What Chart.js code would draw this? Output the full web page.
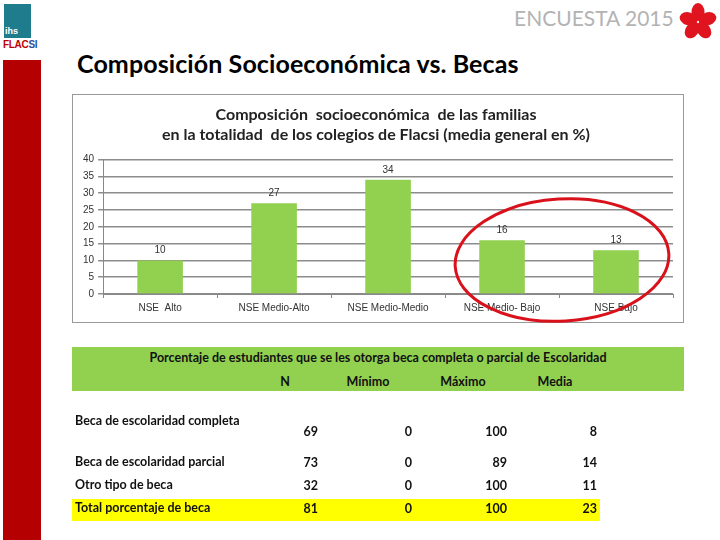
<!DOCTYPE html>
<html>
<head>
<meta charset="utf-8">
<script src="https://cdn.jsdelivr.net/npm/chart.js@4.4.1/dist/chart.umd.min.js"></script>
<style>
  body { margin: 0; width: 720px; height: 540px; background: #fff; position: relative; overflow: hidden; font-family: 'Lato', 'Noto Sans', sans-serif; }
  .abs { position: absolute; }
  #redbar { left: 3px; top: 60px; width: 38px; height: 480px; background: #b40000; }
  #logo { left: 4px; top: 4px; width: 27px; height: 34px; background: #1e7c8c; }
  #logo span { position: absolute; left: 1px; bottom: 2px; color: #fff; font: bold 9px 'Liberation Sans', sans-serif; }
  #flacsi { left: 3px; top: 39px; font: bold 10px 'Liberation Sans Narrow', 'Liberation Sans', sans-serif; color: #c00000; letter-spacing: -0.3px; }
  #flacsi b { color: #2a4f9a; }
  #encuesta { left: 514px; top: 5px; font-size: 21px; color: #b3b3b3; font-family: 'Lato', sans-serif; }
  #title { left: 77px; top: 48px; font-size: 25px; font-weight: bold; color: #000; font-family: 'Lato', sans-serif; letter-spacing: 0.1px; }
  #chartbox { left: 72px; top: 94px; width: 610px; height: 227px; border: 1px solid #999; }
  #tblhead { left: 72px; top: 347px; width: 612px; height: 44px; background: #92d050; }
  .cell { position: absolute; font-size: 12.5px; font-weight: bold; color: #111; white-space: nowrap; }
  #yellow { left: 72px; top: 499px; width: 528px; height: 22px; background: #ffff00; }
</style>
</head>
<body>
<div id="redbar" class="abs"></div>
<div id="logo" class="abs"><span>ihs</span></div>
<div id="flacsi" class="abs">FLAC<b>SI</b></div>
<div id="encuesta" class="abs">ENCUESTA 2015</div>
<svg class="abs" style="left:678px;top:2px" width="40" height="40" viewBox="-20 -20 40 40">
  <g fill="#e0141e">
    <ellipse cx="0" cy="-10" rx="6.5" ry="9"/>
    <ellipse cx="0" cy="-10" rx="6.5" ry="9" transform="rotate(72)"/>
    <ellipse cx="0" cy="-10" rx="6.5" ry="9" transform="rotate(144)"/>
    <ellipse cx="0" cy="-10" rx="6.5" ry="9" transform="rotate(216)"/>
    <ellipse cx="0" cy="-10" rx="6.5" ry="9" transform="rotate(288)"/>
  </g>
</svg>
<div id="title" class="abs">Composición Socioeconómica vs. Becas</div>

<div id="chartbox" class="abs"><canvas id="grafico" width="610" height="227"></canvas></div>
<svg class="abs" style="left:0;top:0;pointer-events:none" width="720" height="540">
  <ellipse cx="562" cy="260" rx="107" ry="61" transform="rotate(-3.5 562 260)" fill="none" stroke="#d9111b" stroke-width="3"/>
</svg>

<div id="tblhead" class="abs"></div>
<div id="yellow" class="abs"></div>
<div id="tabla"></div>

<script>
// datos del grafico
const categorias = ['NSE  Alto', 'NSE Medio-Alto', 'NSE Medio-Medio', 'NSE Medio- Bajo', 'NSE Bajo'];
const valores = [10, 27, 34, 16, 13];
const ticksY = [0, 5, 10, 15, 20, 25, 30, 35, 40];

// datos de la tabla
const tituloTabla = 'Porcentaje de estudiantes que se les otorga beca completa o parcial de Escolaridad';
const columnas = ['N', 'Mínimo', 'Máximo', 'Media'];
const filas = ['Beca de escolaridad completa', 'Beca de escolaridad parcial', 'Otro tipo de beca', 'Total porcentaje de beca'];
const colN = [69, 73, 32, 81];
const colMin = [0, 0, 0, 0];
const colMax = [100, 89, 100, 100];
const colMedia = [8, 14, 11, 23];

const etiquetas = {
    id: 'etiquetas',
    afterDatasetsDraw(chart) {
        const c = chart.ctx;
        c.save();
        c.font = '10px "Liberation Sans", sans-serif';
        c.fillStyle = '#333';
        c.textAlign = 'center';
        c.textBaseline = 'bottom';
        chart.getDatasetMeta(0).data.forEach(function (bar, i) {
            c.fillText(valores[i], bar.x, bar.y - 5);
        });
        c.restore();
    }
};

const ctx = document.getElementById('grafico').getContext('2d');
const grafico = new Chart(ctx, {
    type: 'bar',
    data: {
        labels: categorias,
        datasets: [{
            label: 'Composición socioeconómica',
            data: valores,
            backgroundColor: '#92d050',
            borderWidth: 0,
            categoryPercentage: 1,
            barPercentage: 0.4
        }]
    },
    options: {
        responsive: false,
        animation: false,
        layout: { padding: { left: 6, right: 10, top: 4, bottom: 4 } },
        plugins: {
            legend: { display: false },
            tooltip: { enabled: false },
            title: {
                display: true,
                text: ['Composición  socioeconómica  de las familias', 'en la totalidad  de los colegios de Flacsi (media general en %)'],
                color: '#222',
                font: { family: 'Lato', size: 16, weight: 'bold', lineHeight: 1.3 },
                padding: { top: 5, bottom: 14 }
            }
        },
        scales: {
            x: {
                grid: { display: true, drawOnChartArea: false, color: '#888', tickLength: 4 },
                border: { color: '#888' },
                ticks: { color: '#333', font: { family: 'Liberation Sans', size: 10 }, padding: 4, maxRotation: 0 }
            },
            y: {
                min: 0,
                max: 40,
                afterBuildTicks: function (axis) { axis.ticks = ticksY.map(v => ({ value: v })); },
                grid: { color: '#8c8c8c', lineWidth: 1.5, tickLength: 5 },
                border: { color: '#888' },
                ticks: { color: '#333', font: { family: 'Liberation Sans', size: 10 }, padding: 4 }
            }
        }
    },
    plugins: [etiquetas]
});

// tabla de becas
const tabla = document.getElementById('tabla');
function celda(texto, x, y, alinear, extra) {
    const d = document.createElement('div');
    d.className = 'cell';
    d.textContent = texto;
    d.style.top = y + 'px';
    if (alinear === 'right') d.style.right = (720 - x) + 'px';
    else if (alinear === 'center') { d.style.left = (x - 100) + 'px'; d.style.width = '200px'; d.style.textAlign = 'center'; }
    else d.style.left = x + 'px';
    if (extra) Object.assign(d.style, extra);
    tabla.appendChild(d);
}
celda(tituloTabla, 378, 350, 'center', { left: '72px', width: '612px' });
const centrosCol = [285, 368, 463, 555];
columnas.forEach((c, i) => celda(c, centrosCol[i], 374, 'center'));
const yEtiqueta = [413, 454, 477, 500];
const yValor = [424, 455, 478, 501];
const derechas = [318, 412, 507, 597];
filas.forEach(function (f, i) {
    celda(f, 75, yEtiqueta[i]);
    [colN, colMin, colMax, colMedia].forEach(function (col, j) {
        celda(String(col[i]), derechas[j], yValor[i], 'right');
    });
});
</script>
</body>
</html>
